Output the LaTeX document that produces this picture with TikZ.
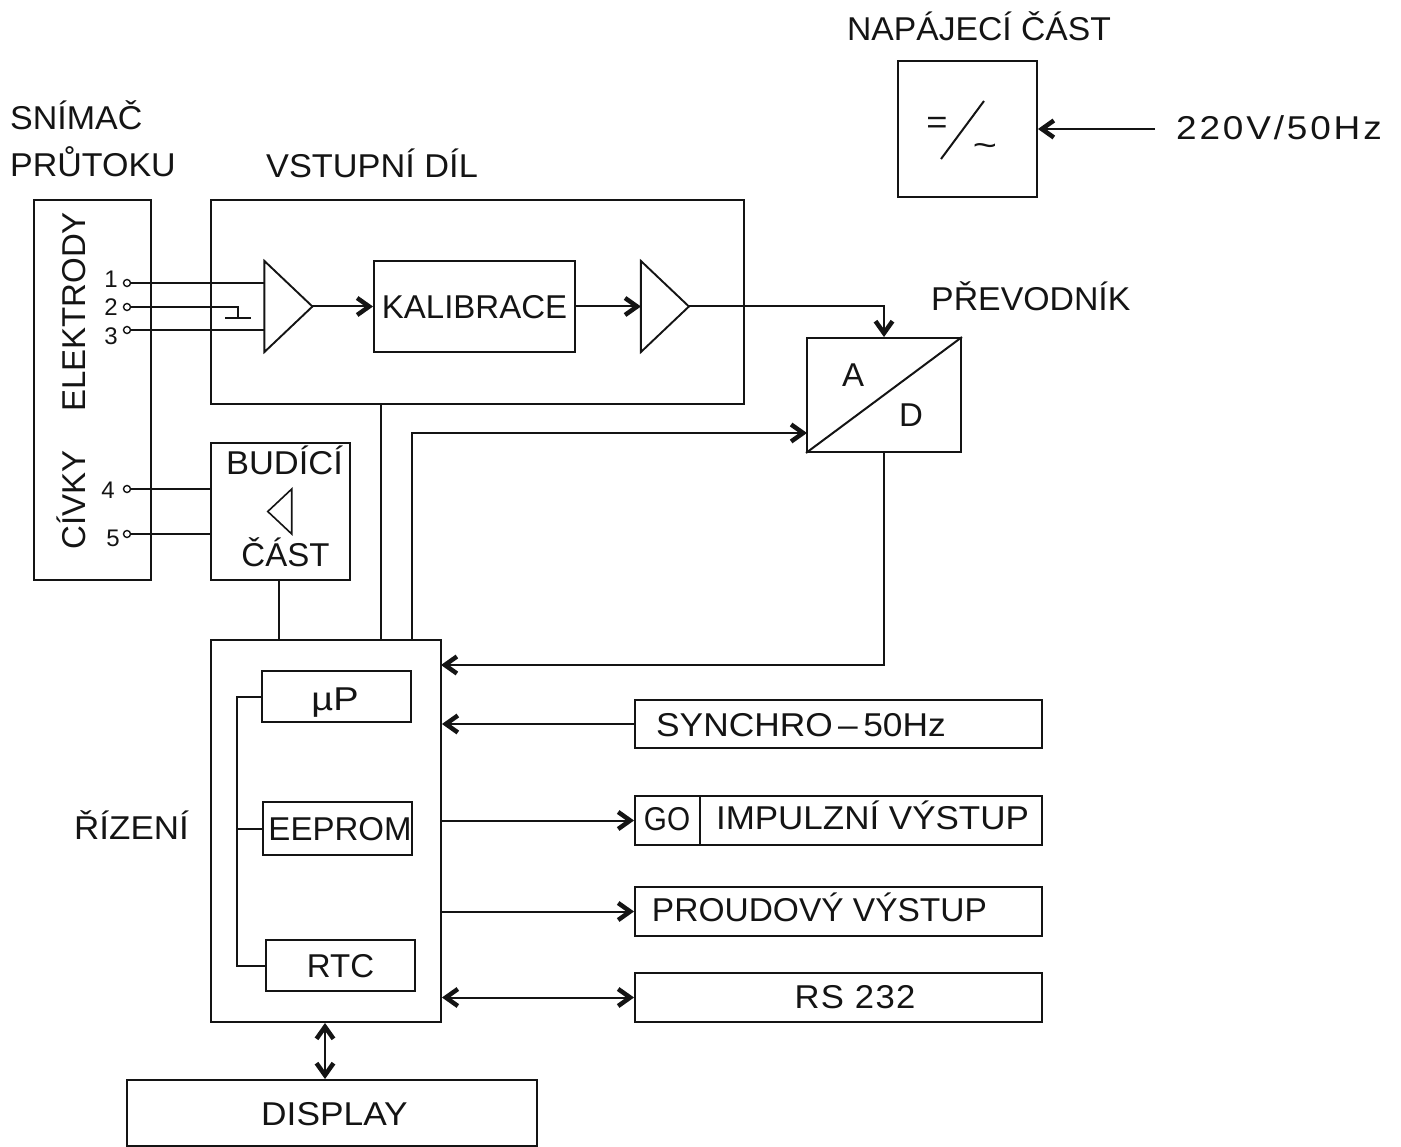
\documentclass[tikz,border=0pt]{standalone}
\usepackage{fontspec}
\setmainfont{Liberation Sans}
\usepackage{xcolor}
\definecolor{inkblack}{RGB}{20, 20, 20}
\usetikzlibrary{arrows.meta, positioning, calc, shapes.geometric}
\tikzset{
    lbl/.style={inner sep=0pt, text height=23.6pt, text depth=0pt, text=inkblack, font=\fontsize{33}{36}\selectfont\addfontfeature{FakeStretch=#1}},
    lbl/.default=1,
    box/.style={draw=inkblack, line width=1.9pt, inner sep=0pt, text height=23.6pt, text depth=0pt, text=inkblack, font=\fontsize{33}{36}\selectfont},
    num/.style={inner sep=0pt, text=inkblack, font=\fontsize{24}{26}\selectfont},
    term/.style={draw=inkblack, circle, line width=1.4pt, fill=white, minimum size=7pt, inner sep=0pt},
    amp/.style={draw=inkblack, line width=1.9pt, isosceles triangle, isosceles triangle stretches, inner sep=0pt, outer sep=0pt},
    wire/.style={line width=2pt, draw=inkblack},
    tip/.style={wire, -{Straight Barb[length=12pt, width=17pt, line width=4.5pt]}},
    twotip/.style={wire, {Straight Barb[length=12pt, width=17pt, line width=4.5pt]}-{Straight Barb[length=12pt, width=17pt, line width=4.5pt]}}
}
\begin{document}
\begin{tikzpicture}[x=1pt, y=-1pt]
    \useasboundingbox (0,0) rectangle (1401,1147);

    \node[lbl=1.02] (napajlbl) at (979,29) {NAPÁJECÍ ČÁST};
    \node[lbl=1.03, anchor=west] (snimlbl) at (10,118) {SNÍMAČ};
    \node[lbl=1.03, anchor=west] (prutlbl) at (10,165) {PRŮTOKU};
    \node[lbl=1.04, anchor=west] (vstuplbl) at (266,166) {VSTUPNÍ DÍL};
    \node[lbl=1.025, anchor=west] (prevlbl) at (931,299) {PŘEVODNÍK};
    \node[lbl=1.06, anchor=west] (rizlbl) at (74,828) {ŘÍZENÍ};

    \node[box, minimum width=139, minimum height=136] (zdroj) at (967.5,129) {};
    \node[lbl=1.1] (rovno) at (937,122) {=};
    \node[lbl=1.25] (vlnka) at (985,145) {\textasciitilde};
    \coordinate (sikmoA) at (941,159);
    \coordinate (sikmoB) at (984,101);
    \draw[wire] (sikmoA) -- (sikmoB);
    \node[lbl=1.12, anchor=west] (sit) at (1176,128) {\addfontfeature{LetterSpace=8.6}220V/50Hz};
    \coordinate (sitkonec) at (1155,129);
    \draw[tip] (sitkonec) -- (zdroj.east |- sitkonec);

    \node[box, minimum width=117, minimum height=380] (snimac) at (92.5,390) {};
    \node[lbl, rotate=90] (elektrody) at (74,312) {ELEKTRODY};
    \node[lbl, rotate=90] (civky) at (74,500) {CÍVKY};
    \foreach \n/\ty/\ny/\nx in {1/283/279/111, 2/307/307/111, 3/330/336/111, 4/489/490/108, 5/534/538/113}
        {\node[term] (t\n) at (127,\ty) {};
         \node[num] (n\n) at (\nx,\ny) {\n};}

    \node[box, minimum width=533, minimum height=204] (vstup) at (477.5,302) {};
    \node[amp, minimum height=48, minimum width=91] (ampA) at (284,306.5) {};
    \node[box, minimum width=201, minimum height=91] (kalib) at (474.5,306.5) {KALIBRACE};
    \node[amp, minimum height=48, minimum width=91] (ampB) at (660.5,306.5) {};

    \draw[wire] (t1) -- (t1 -| ampA.lower side);
    \draw[wire] (t3) -- (t3 -| ampA.lower side);
    \coordinate (zem) at (238,318);
    \draw[wire] (t2) -| (zem);
    \draw[wire] ($(zem)+(-13,0)$) -- ($(zem)+(13,0)$);
    \draw[tip] (ampA.apex) -- (kalib.west);
    \draw[tip] (kalib.east) -- (ampB.lower side);

    \node[box, minimum width=154, minimum height=114] (prevod) at (884,395) {};
    \draw[wire] (prevod.south west) -- (prevod.north east);
    \node[lbl] (aa) at (853,375) {A};
    \node[lbl] (dd) at (911,415) {D};
    \draw[tip] (ampB.apex) -| (prevod.north);

    \node[box, minimum width=139, minimum height=137] (budic) at (280.5,511.5) {};
    \node[lbl=1.045] (budlbl) at (284.5,463) {BUDÍCÍ};
    \node[lbl] (castlbl) at (285.5,555) {ČÁST};
    \node[amp, shape border rotate=180, minimum height=24, minimum width=45, line width=1.6pt] (ampC) at (282,511.5) {};
    \draw[wire] (t4) -- (t4 -| budic.west);
    \draw[wire] (t5) -- (t5 -| budic.west);

    \node[box, minimum width=230, minimum height=382] (rizeni) at (326,831) {};
    \node[box, minimum width=149, minimum height=51] (mikro) at (336.5,696.5) {};
    \node[lbl=1.15] (mikrolbl) at (335,699) {µP};
    \node[box, minimum width=149, minimum height=53] (eeprom) at (337.5,828.5) {};
    \node[lbl] (eepromlbl) at (340,829) {EEPROM};
    \node[box, minimum width=149, minimum height=51] (rtc) at (340.5,965.5) {RTC};
    \coordinate (sbernice) at (237,829);
    \draw[wire] (mikro.west) -| (sbernice) |- (rtc.west);
    \draw[wire] (sbernice) -- (sbernice -| eeprom.west);

    \coordinate (vstupdol) at (381,404);
    \draw[wire] (vstupdol) -- (vstupdol |- rizeni.north);
    \coordinate (budicdol) at (279,580);
    \draw[wire] (budicdol) -- (budicdol |- rizeni.north);
    \coordinate (vstupAD) at (412,640);
    \coordinate (vstupADb) at (807,433);
    \draw[tip] (vstupAD) |- (vstupADb);
    \coordinate (rizvstup) at (441,665);
    \draw[tip] (prevod.south) |- (rizvstup);

    \node[box, minimum width=407, minimum height=48] (synchro) at (838.5,724) {};
    \node[lbl=1.07] (synchrolbl) at (801,725) {SYNCHRO\,–\,50Hz};
    \node[box, minimum width=65, minimum height=49] (go) at (667.5,820.5) {};
    \node[lbl=0.9] (golbl) at (667,819) {GO};
    \node[box, minimum width=342, minimum height=49] (impuls) at (871,820.5) {};
    \node[lbl=1.06] (impulslbl) at (872.5,818) {IMPULZNÍ VÝSTUP};
    \node[box, minimum width=407, minimum height=49] (proud) at (838.5,911.5) {};
    \node[lbl=1.015] (proudlbl) at (819.5,910) {PROUDOVÝ VÝSTUP};
    \node[box, minimum width=407, minimum height=49] (rs) at (838.5,997.5) {};
    \node[lbl=1.05] (rslbl) at (855,997) {\addfontfeature{LetterSpace=4}RS 232};

    \draw[tip] (synchro.west) -- (synchro.west -| rizeni.east);
    \draw[tip] (go.west -| rizeni.east) -- (go.west);
    \draw[tip] (proud.west -| rizeni.east) -- (proud.west);
    \draw[twotip] (rs.west -| rizeni.east) -- (rs.west);

    \node[box, minimum width=410, minimum height=66] (displej) at (332,1113) {};
    \node[lbl=1.07] (displbl) at (334.5,1114) {DISPLAY};
    \coordinate (sloupec) at (325,1050);
    \draw[twotip] (sloupec |- rizeni.south) -- (sloupec |- displej.north);
\end{tikzpicture}
\end{document}
